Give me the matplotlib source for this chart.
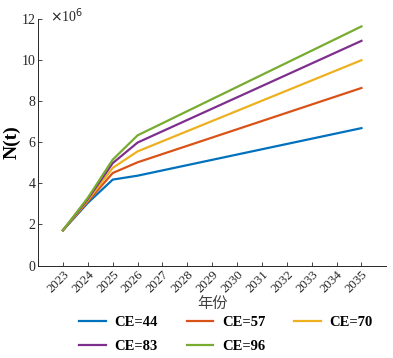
import matplotlib
matplotlib.use('Agg')
import matplotlib.pyplot as plt

years = list(range(2023, 2036))
labels = ['CE=44', 'CE=57', 'CE=70', 'CE=83', 'CE=96']
colors = ['#0072BD', '#D95319', '#EDB120', '#7E2F8E', '#77AC30']

# values in units of 1e6 (2026 on is a straight line)
start = [1.72, 1.72, 1.72, 1.72, 1.72]
y2024 = [3.05, 3.12, 3.18, 3.24, 3.30]
y2025 = [4.18, 4.50, 4.75, 4.98, 5.15]
y2026 = [4.37, 5.02, 5.55, 5.98, 6.33]
y2035 = [6.68, 8.63, 9.98, 10.92, 11.62]

series = []
for i in range(5):
    tail = [y2026[i] + (y2035[i] - y2026[i]) * k / 9 for k in range(10)]
    series.append([start[i], y2024[i], y2025[i]] + tail)

plt.rcParams['font.family'] = ['Liberation Serif', 'Noto Sans CJK SC']
plt.rcParams['xtick.direction'] = 'in'
plt.rcParams['ytick.direction'] = 'in'

fig = plt.figure(figsize=(3.93, 3.58), dpi=100)
ax = fig.add_axes([0.097, 0.258, 0.886, 0.69])
handles = []
for s, lab, c in zip(series, labels, colors):
    h, = ax.plot(years, [v * 1e6 for v in s], color=c, lw=1.6, label=lab)
    handles.append(h)

ax.set_xlim(2022, 2036)
ax.set_ylim(0, 12e6)
ax.set_xticks(years)
ax.set_xticklabels([str(y) for y in years], rotation=45, ha='right',
                   rotation_mode='anchor', fontsize=9.3)
ax.set_yticks([0, 2e6, 4e6, 6e6, 8e6, 10e6, 12e6])
ax.set_yticklabels(['0', '2', '4', '6', '8', '10', '12'], fontsize=10)
ax.tick_params(length=3, width=0.6, colors='#262626', pad=2)
for sp in ['top', 'right']:
    ax.spines[sp].set_visible(False)
for sp in ['left', 'bottom']:
    ax.spines[sp].set_color('#262626')
    ax.spines[sp].set_linewidth(0.7)

ax.text(0.035, 0.975, r'$\times$10$^6$', transform=ax.transAxes, fontsize=10,
        ha='left', va='bottom', color='#262626')
ax.set_ylabel('N(t)', fontsize=14, fontweight='bold')
ax.yaxis.set_label_coords(-0.05, 0.5)
ax.set_xlabel('年份', fontsize=11, color='#404040',
              family=['Noto Sans CJK SC'])
ax.xaxis.set_label_coords(0.5, -0.118)

# row-wise order: 44 57 70 / 83 96
order = [0, 3, 1, 4, 2]
fig.legend([handles[i] for i in order], [labels[i] for i in order],
           loc='lower center', bbox_to_anchor=(0.575, -0.022), ncol=3,
           frameon=False, prop={'weight': 'bold', 'size': 10.5},
           handlelength=1.8, handletextpad=0.6, columnspacing=2.0,
           labelspacing=0.7)

fig.savefig('out.png', dpi=100)
